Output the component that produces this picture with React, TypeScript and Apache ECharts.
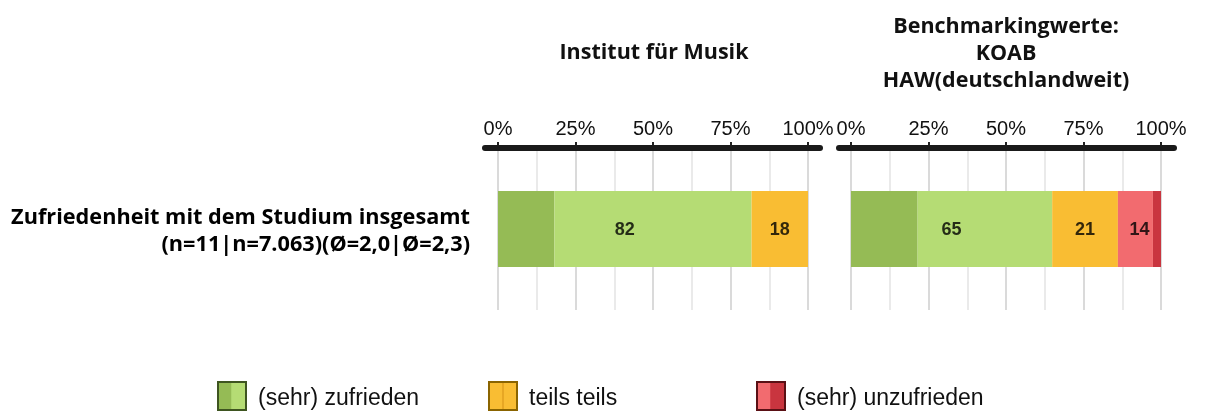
import React, { useEffect, useRef } from "react";
import * as echarts from "echarts";

const panelTitles = ["Institut für Musik", "Benchmarkingwerte:\nKOAB\nHAW(deutschlandweit)"];
const itemLabel = ["Zufriedenheit mit dem Studium insgesamt\n(n=11|n=7.063)(Ø=2,0|Ø=2,3)"];
// per panel: [Institut, Benchmark]
const sehrZufrieden = [18.2, 21.5];
const zufrieden = [63.6, 43.4];
const teilsTeils = [18.2, 21.2];
const unzufrieden = [0, 11.3];
const sehrUnzufrieden = [0, 2.6];
// labels shown per group
const labelZufrieden = [82, 65];
const labelTeils = [18, 21];
const labelUnzufrieden = [null, 14];
const tickValues = [0, 25, 50, 75, 100];

const legendNames = ["(sehr) zufrieden", "teils teils", "(sehr) unzufrieden"];
const segColors = ["#95BB55", "#B5DC74", "#F9BD33", "#F26B6F", "#C9353F"];

export default function App() {
  const ref = useRef<HTMLDivElement>(null);
  useEffect(() => {
    document.body.style.margin = "0";
    const chart = echarts.init(ref.current!, undefined, { renderer: "svg" });
    const grids = [
      { left: 498, width: 310, top: 148, height: 162 },
      { left: 851, width: 310, top: 148, height: 162 },
    ];
    const xAxes = grids.map((_, i) => ({
      type: "value",
      gridIndex: i,
      position: "top",
      min: 0,
      max: 100,
      interval: 25,
      axisLine: { show: false },
      axisTick: { show: true, length: 6, lineStyle: { color: "#222", width: 2 } },
      axisLabel: {
        formatter: (v: number) => (tickValues.includes(v) ? v + "%" : ""),
        fontFamily: "Liberation Sans",
        fontSize: 20,
        color: "#111",
        margin: 10,
      },
      splitLine: { show: true, lineStyle: { color: "#DADADA", width: 2 } },
      minorTick: { show: false, splitNumber: 2 },
      minorSplitLine: { show: true, lineStyle: { color: "#E3E3E3", width: 1.5 } },
    }));
    const yAxes = grids.map((_, i) => ({
      type: "category",
      gridIndex: i,
      data: itemLabel,
      axisLine: { show: false },
      axisTick: { show: false },
      axisLabel: {
        show: i === 0,
        fontFamily: "Open Sans",
        fontWeight: "bold",
        fontSize: 21.7,
        lineHeight: 27,
        color: "#000",
        align: "right",
        margin: 28,
      },
    }));
    const segs = [sehrZufrieden, zufrieden, teilsTeils, unzufrieden, sehrUnzufrieden];
    const series: any[] = [];
    grids.forEach((_, g) => {
      segs.forEach((arr, s) => {
        series.push({
          type: "bar",
          xAxisIndex: g,
          yAxisIndex: g,
          stack: "s" + g,
          barWidth: 76,
          data: [arr[g]],
          itemStyle: { color: segColors[s] },
          silent: true,
        });
      });
      const greenEnd = sehrZufrieden[g] + zufrieden[g];
      const teilsEnd = greenEnd + teilsTeils[g];
      const redEnd = teilsEnd + unzufrieden[g] + sehrUnzufrieden[g];
      const pts: any[] = [
        { value: [greenEnd / 2, 0], lbl: labelZufrieden[g] },
        { value: [(greenEnd + teilsEnd) / 2, 0], lbl: labelTeils[g] },
        { value: [(teilsEnd + redEnd) / 2, 0], lbl: labelUnzufrieden[g] },
      ].filter((p) => p.lbl !== null);
      series.push({
        type: "scatter",
        xAxisIndex: g,
        yAxisIndex: g,
        symbolSize: 0,
        z: 10,
        data: pts.map((p) => ({ value: p.value, name: String(p.lbl) })),
        label: {
          show: true,
          position: "inside",
          formatter: (p: any) => p.name,
          fontFamily: "Liberation Sans",
          fontWeight: "bold",
          fontSize: 18,
          color: "#000",
        },
      });
    });

    const legendX = [218, 489, 757];
    const legendCols = [
      ["#95BB55", "#B5DC74", "#3E5520"],
      ["#F9BD33", "#F9BD33", "#8A6400"],
      ["#F26B6F", "#C9353F", "#5A1015"],
    ];
    const legendGraphics: any[] = [];
    legendNames.forEach((n, i) => {
      const x = legendX[i];
      const [c1, c2, b] = legendCols[i];
      legendGraphics.push(
        { type: "rect", shape: { x: x, y: 382, width: 14, height: 28 }, style: { fill: c1 } },
        { type: "rect", shape: { x: x + 14, y: 382, width: 14, height: 28 }, style: { fill: c2 } },
        { type: "line", shape: { x1: x + 14, y1: 382, x2: x + 14, y2: 410 }, style: { stroke: i === 1 ? "#E0A020" : c2, lineWidth: 1.5 } },
        { type: "rect", shape: { x: x, y: 382, width: 28, height: 28 }, style: { fill: "none", stroke: b, lineWidth: 2 } },
        {
          type: "text",
          x: x + 40,
          y: 397,
          style: { text: n, fontFamily: "Liberation Sans", fontSize: 23, fill: "#111", verticalAlign: "middle" },
        }
      );
    });

    chart.setOption({
      animation: false,
      grid: grids,
      xAxis: xAxes,
      yAxis: yAxes,
      series,
      graphic: [
        { type: "line", shape: { x1: 485, y1: 148, x2: 820, y2: 148 }, style: { stroke: "#1A1A1A", lineWidth: 6, lineCap: "round" }, z: 5 },
        { type: "line", shape: { x1: 839, y1: 148, x2: 1174, y2: 148 }, style: { stroke: "#1A1A1A", lineWidth: 6, lineCap: "round" }, z: 5 },
        {
          type: "text",
          x: 654,
          y: 50,
          style: { text: panelTitles[0], fontFamily: "Open Sans", fontWeight: "bold", fontSize: 21.5, fill: "#111", align: "center", verticalAlign: "middle" },
        },
        {
          type: "text",
          x: 1006,
          y: 51,
          style: {
            text: panelTitles[1],
            fontFamily: "Open Sans",
            fontWeight: "bold",
            fontSize: 21.5,
            lineHeight: 27,
            fill: "#111",
            align: "center",
            verticalAlign: "middle",
          },
        },
        ...legendGraphics,
      ],
    });
    return () => chart.dispose();
  }, []);
  return <div ref={ref} style={{ position: "fixed", left: 0, top: 0, width: 1205, height: 413 }} />;
}
